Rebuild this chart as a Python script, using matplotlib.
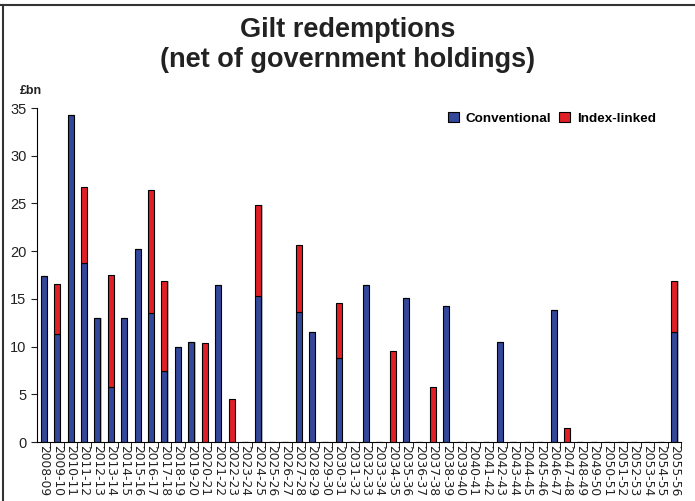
import matplotlib.pyplot as plt
import numpy as np

plt.rcParams['font.family'] = ['Liberation Sans', 'DejaVu Sans']

# financial years 2008-09 .. 2055-56
years = ['%d-%02d' % (y, (y + 1) % 100) for y in range(2008, 2056)]

conventional = [17.4, 11.3, 34.3, 18.8, 13.0, 5.8, 13.0, 20.2, 13.5, 7.4,
                10.0, 10.5, 0.0, 16.4, 0.0, 0.0, 15.3, 0.0, 0.0, 13.6,
                11.5, 0.0, 8.8, 0.0, 16.4, 0.0, 0.0, 15.1, 0.0, 0.0,
                14.3, 0.0, 0.0, 0.0, 10.5, 0.0, 0.0, 0.0, 13.8, 0.0,
                0.0, 0.0, 0.0, 0.0, 0.0, 0.0, 0.0, 11.5]
index_linked = [0.0, 5.3, 0.0, 7.9, 0.0, 11.7, 0.0, 0.0, 12.9, 9.5,
                0.0, 0.0, 10.4, 0.0, 4.5, 0.0, 9.5, 0.0, 0.0, 7.0,
                0.0, 0.0, 5.8, 0.0, 0.0, 0.0, 9.5, 0.0, 0.0, 5.8,
                0.0, 0.0, 0.0, 0.0, 0.0, 0.0, 0.0, 0.0, 0.0, 1.5,
                0.0, 0.0, 0.0, 0.0, 0.0, 0.0, 0.0, 5.4]

blue = '#33479b'
red = '#e01f26'

fig = plt.figure(figsize=(6.95, 5.01), dpi=100)
ax = fig.add_axes([37 / 695, 1 - 442 / 501, (681 - 37) / 695, (442 - 108) / 501])

x = np.arange(len(years))
conv = np.array(conventional)
il = np.array(index_linked)
w = 0.45

# light shadow behind bars
tot = conv + il
ax.bar(x + 0.09, tot, w, color='#bbbbbb', zorder=1)
ax.bar(x, conv, w, color=blue, edgecolor='black', linewidth=0.8,
       label='Conventional', zorder=2)
ax.bar(x, il, w, bottom=conv, color=red, edgecolor='black', linewidth=0.8,
       label='Index-linked', zorder=2)

ax.set_xlim(-0.5, len(years) - 0.5)
ax.set_ylim(0, 35)
ax.set_yticks(range(0, 36, 5))
ax.tick_params(axis='y', direction='out', length=4, labelsize=10.5, colors='#222222')
ax.set_xticks(x)
ax.set_xticklabels(years, rotation=270, fontsize=8.8, color='#222222',
                   family='DejaVu Sans')
ax.tick_params(axis='x', length=0, pad=2)
ax.set_xticks(x + 0.5, minor=True)
ax.tick_params(axis='x', which='minor', direction='out', length=4)

for s in ['top', 'right']:
    ax.spines[s].set_visible(False)

ax.legend(loc='upper right', bbox_to_anchor=(0.98, 1.025), ncol=2, frameon=False,
          prop={'weight': 'bold', 'size': 9.7}, handlelength=0.8, handleheight=0.8,
          columnspacing=0.6, handletextpad=0.5)

fig.text(0.5, 1 - 30 / 501, 'Gilt redemptions', ha='center', va='center',
         fontsize=19.5, weight='bold', color='#222222')
fig.text(0.5, 1 - 60 / 501, '(net of government holdings)', ha='center', va='center',
         fontsize=19.5, weight='bold', color='#222222')
fig.text(20 / 695, 1 - 91 / 501, '£bn', ha='left', va='center', fontsize=9,
         weight='bold', color='#222222')

# frame lines of the original box
fig.add_artist(plt.Line2D([0, 1], [1 - 5 / 501, 1 - 5 / 501], color='#333333', lw=1.5))
fig.add_artist(plt.Line2D([3 / 695, 3 / 695], [0, 1 - 5 / 501], color='#333333', lw=1.5))

fig.savefig('out.png', dpi=100)
